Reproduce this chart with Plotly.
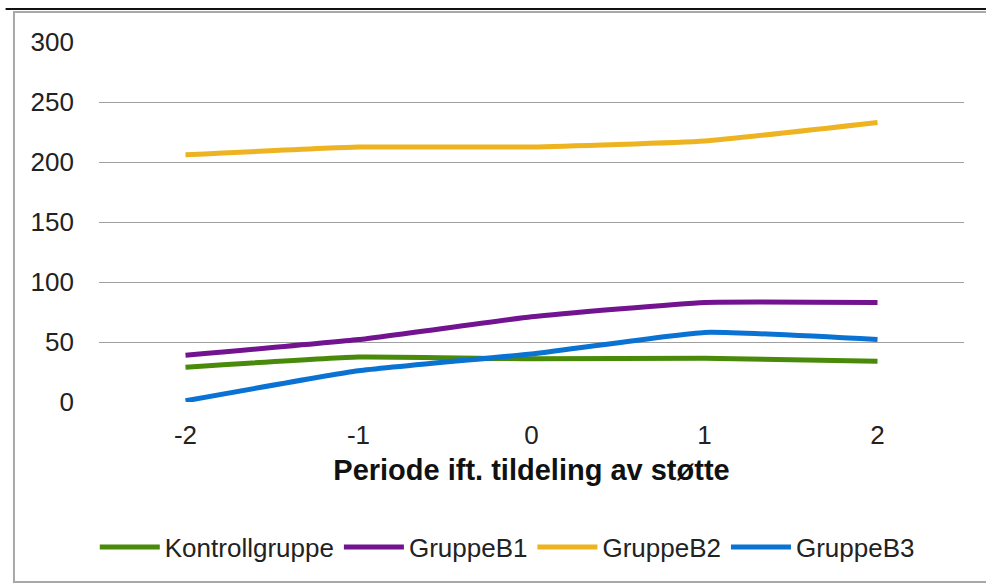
import plotly.graph_objects as go

# Periods relative to grant allocation
perioder = [-2, -1, 0, 1, 2]
periode_tekst = ["-2", "-1", "0", "1", "2"]

kontrollgruppe = [29, 37.5, 36, 36.5, 34]
gruppe_b1 = [39, 52, 71, 83, 83]
gruppe_b2 = [206, 212.5, 212.5, 217.5, 233]
gruppe_b3 = [1, 26, 40, 58, 52]

serier = [
    ("Kontrollgruppe", kontrollgruppe, "#4a8a0a"),
    ("GruppeB1", gruppe_b1, "#72138f"),
    ("GruppeB2", gruppe_b2, "#eeb320"),
    ("GruppeB3", gruppe_b3, "#0a72d2"),
]

fig = go.Figure()
for navn, verdier, farge in serier:
    fig.add_trace(go.Scatter(
        x=perioder, y=verdier, name=navn, mode="lines",
        line=dict(color=farge, width=5, shape="spline", smoothing=0.4),
    ))

font = "Liberation Sans, Arial, sans-serif"

fig.update_layout(
    width=986, height=584,
    margin=dict(l=99, r=22, t=42, b=182),
    paper_bgcolor="white", plot_bgcolor="white",
    font=dict(family=font, size=26, color="#222222"),
    showlegend=True,
    legend=dict(orientation="h", x=0.472, xanchor="center", y=-0.403, yanchor="middle",
                font=dict(size=26), itemwidth=60, tracegroupgap=0),
    xaxis=dict(
        range=[-2.5, 2.5], tickvals=perioder, ticktext=periode_tekst,
        showgrid=False, zeroline=False, showline=False, ticks="", ticklabelstandoff=15,
        title=dict(text="<b>Periode ift. tildeling av støtte</b>", standoff=10,
                   font=dict(size=29, color="#111111")),
    ),
    yaxis=dict(
        range=[0, 300], tickvals=[0, 50, 100, 150, 200, 250, 300],
        showgrid=True, gridcolor="#a0a0a0", gridwidth=1.3, zeroline=False,
        showline=False, ticks="", ticklabelstandoff=24,
    ),
)

# frame around the chart
fig.add_shape(type="rect", xref="paper", yref="paper",
              x0=-0.0983, x1=1.04, y0=-0.5, y1=1.083,
              line=dict(color="#a8a8a8", width=2), layer="below")
fig.add_shape(type="line", xref="paper", yref="paper",
              x0=-0.108, x1=1.04, y0=1.0917, y1=1.0917,
              line=dict(color="#111111", width=2))

# drop the default page margin so the figure fills the window
fig.write_html("out.html", config={"displayModeBar": False},
               post_script="document.body.style.margin='0';")
